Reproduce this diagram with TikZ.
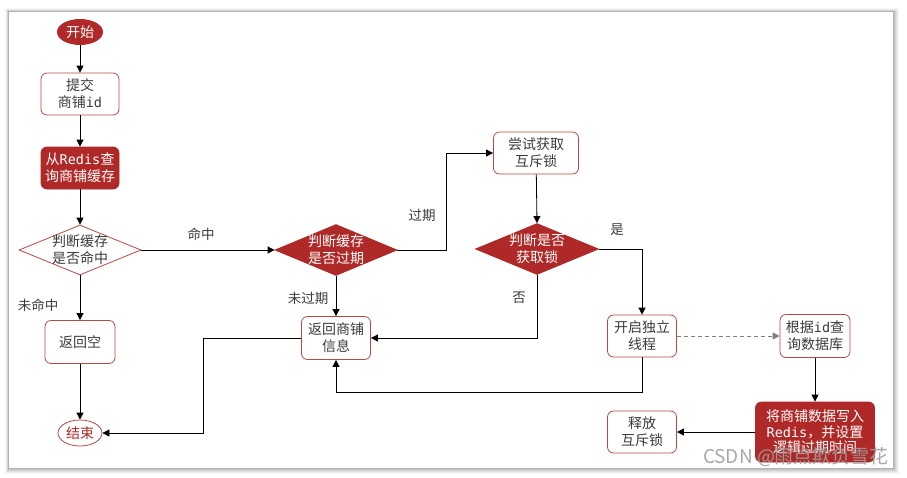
\documentclass[tikz,border=0pt]{standalone}
\usepackage{fontspec}
\setmainfont{Noto Sans CJK SC}
\newfontfamily\monof{DejaVu Sans Mono}
\usetikzlibrary{shapes.geometric,arrows.meta}
\definecolor{rd}{RGB}{174,41,39}
\definecolor{rdline}{RGB}{184,72,68}
\definecolor{txt}{RGB}{60,60,60}
\newcommand{\mn}[1]{{\monof\fontsize{13.5}{17}\selectfont #1}}
\tikzset{
  base/.style={font=\fontsize{14}{17}\selectfont, align=center, inner sep=0pt},
  wbox/.style={base, rectangle, rounded corners=6pt, draw=rdline, fill=white, text=txt, line width=0.8pt},
  rbox/.style={base, rectangle, rounded corners=6pt, draw=rd, fill=rd, text=white, line width=0.8pt},
  dia/.style={diamond, inner sep=0pt, line width=0.8pt},
  dtxt/.style={base},
  lbl/.style={font=\fontsize{13.5}{15}\selectfont, text=txt, inner sep=0pt},
  arr/.style={-{Triangle[length=7pt,width=7pt]}, line width=0.8pt, black},
  darr/.style={-{Triangle[length=7pt,width=7pt]}, line width=0.8pt, gray, dash pattern=on 4pt off 3pt},
}
\begin{document}
\begin{tikzpicture}[x=1pt,y=-1pt]
\useasboundingbox (0,0) rectangle (907,477);
\fill[white] (0,0) rectangle (907,477);
\foreach \i/\o in {6/0.03,5/0.04,4/0.05,3/0.06,2/0.07,1/0.08}{
  \fill[black,opacity=\o] (9-\i*0.6,12-\i*0.6) rectangle (893+\i,468+\i);
}
\fill[white] (9,12) rectangle (893,468);

% nodes
\node[base, ellipse, fill=rd, text=white, minimum width=46pt, minimum height=26pt] (start) at (80,32) {开始};
\node[wbox, minimum width=78pt, minimum height=42pt] (submit) at (80,94) {提交\\商铺\mn{id}};
\node[rbox, minimum width=78pt, minimum height=42pt] (query) at (80,168) {从\mn{Redis}查\\询商铺缓存};
\node[dia, draw=rdline, fill=white, minimum width=122pt, minimum height=50pt] (d1) at (80,250) {};
\node[dtxt, text=txt] (d1t) at (d1) {判断缓存\\是否命中};
\node[dia, draw=rd, fill=rd, minimum width=122pt, minimum height=51pt] (d2) at (336,250) {};
\node[dtxt, text=white] (d2t) at (d2) {判断缓存\\是否过期};
\node[dia, draw=rd, fill=rd, minimum width=123pt, minimum height=51pt] (d3) at (537,249) {};
\node[dtxt, text=white] (d3t) at (d3) {判断是否\\获取锁};
\node[wbox, minimum width=70pt, minimum height=43pt] (empty) at (80,342) {返回空};
\node[base, ellipse, draw=rdline, fill=white, text=rd, line width=0.8pt, minimum width=44pt, minimum height=26pt] (end) at (80,433) {结束};
\node[wbox, minimum width=69pt, minimum height=43pt] (info) at (336,338) {返回商铺\\信息};
\node[wbox, minimum width=85pt, minimum height=42pt] (lock) at (536,153) {尝试获取\\互斥锁};
\node[wbox, minimum width=69pt, minimum height=42pt] (thread) at (642,336) {开启独立\\线程};
\node[wbox, minimum width=70pt, minimum height=43pt] (db) at (815,336) {根据\mn{id}查\\询数据库};
\node[rbox, font=\fontsize{14}{15.5}\selectfont, minimum width=119pt, minimum height=60pt] (write) at (815,432) {将商铺数据写入\\\mn{Redis}，并设置\\逻辑过期时间};
\node[wbox, minimum width=69pt, minimum height=42pt] (release) at (642,432) {释放\\互斥锁};

% labels
\node[lbl] (l1) at (201,234) {命中};
\node[lbl] (l2) at (38,305) {未命中};
\node[lbl] (l3) at (308,298) {未过期};
\node[lbl] (l4) at (422,215) {过期};
\node[lbl] (l5) at (617,230) {是};
\node[lbl] (l6) at (519,298) {否};

% helper coordinates
\coordinate (k1) at (446,153);
\coordinate (k2) at (642,392);
\coordinate (k3) at (203,433);

% edges
\draw[arr] (start) -- (submit);
\draw[arr] (submit) -- (query);
\draw[arr] (query) -- (d1);
\draw[arr] (d1.east) -- (d2.west);
\draw[arr] (d1.south) -- (empty.north);
\draw[arr] (empty) -- (end);
\draw[arr] (d2.south) -- (info.north);
\draw[arr] (d2.east) -| (k1) -- (lock.west);
\draw[arr] (lock) -- (d3.north);
\draw[arr] (d3.south) |- (info.east);
\draw[arr] (d3.east) -| (thread.north);
\draw[arr] (thread.south) -- (k2) -| (info.south);
\draw[arr] (info.west) -| (k3) -- (end.east);
\draw[darr] (thread) -- (db);
\draw[arr] (db) -- (write);
\draw[arr] (write) -- (release);

% watermark
\node[font=\fontsize{19}{20}\selectfont, text=gray!75, inner sep=0pt, opacity=0.9] (wm) at (796,457) {CSDN @雨点欺负雪花};
\end{tikzpicture}
\end{document}
